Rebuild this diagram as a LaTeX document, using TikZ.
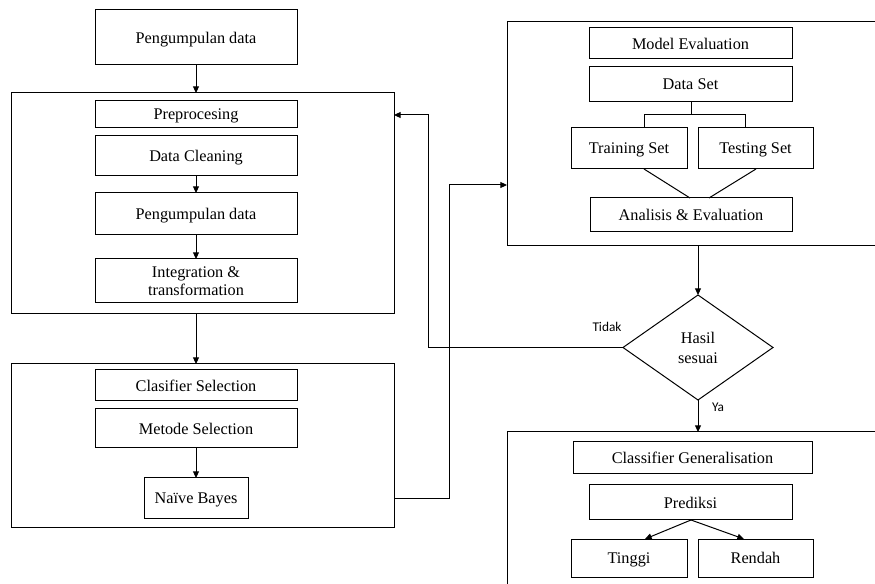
\documentclass[tikz,border=0pt]{standalone}
\usepackage{fontspec}
\setmainfont{Liberation Serif}
\newfontfamily\lblfont{Carlito}
\usetikzlibrary{arrows.meta,shapes.geometric}
\newcommand\px{0.75pt}
\begin{document}
\begin{tikzpicture}[x=0.75pt,y=-0.75pt,
  line width=0.75pt,
  box/.style={draw, inner sep=0pt, outer sep=0pt, align=center, text depth=0pt, font=\fontsize{12.2}{13.5}\selectfont},
  frame/.style={draw, inner sep=0pt, outer sep=0pt},
  arr/.style={-{Triangle[length=5pt,width=4.5pt]}},
  lbl/.style={font=\lblfont\fontsize{10}{11}\selectfont, inner sep=0pt}]
\useasboundingbox (0,0) rectangle (875,584);
\clip (0,0) rectangle (875,584);
% left column
\node[box, minimum width=202*\px, minimum height=55*\px] (top) at (196,37.5) {Pengumpulan data};
\node[frame, minimum width=383*\px, minimum height=221*\px] (big1) at (202.5,203.5) {};
\node[box, minimum width=202*\px, minimum height=27*\px] (pre) at (196,114.5) {Preprocesing};
\node[box, minimum width=202*\px, minimum height=40*\px] (dc) at (196,156) {Data Cleaning};
\node[box, minimum width=202*\px, minimum height=42*\px] (pd) at (196,214) {Pengumpulan data};
\node[box, minimum width=202*\px, minimum height=44*\px] (it) at (196,281) {Integration \&\\transformation};
\node[frame, minimum width=383*\px, minimum height=163*\px] (big2) at (202.5,445.5) {};
\node[box, minimum width=202*\px, minimum height=31*\px] (cs) at (196,385.5) {Clasifier Selection};
\node[box, minimum width=202*\px, minimum height=39*\px] (ms) at (196,428.5) {Metode Selection};
\node[box, minimum width=104*\px, minimum height=41*\px] (nb) at (196,498.5) {Naïve Bayes};
% right column
\node[frame, minimum width=400*\px, minimum height=224*\px] (rb1) at (707,134) {};
\node[box, minimum width=203*\px, minimum height=31*\px] (me) at (690.5,43.5) {Model Evaluation};
\node[box, minimum width=203*\px, minimum height=35*\px] (ds) at (690.5,84.5) {Data Set};
\node[box, minimum width=116*\px, minimum height=41*\px] (tr) at (629,148.5) {Training Set};
\node[box, minimum width=115*\px, minimum height=41*\px] (te) at (755.5,148.5) {Testing Set};
\node[box, minimum width=202*\px, minimum height=34*\px] (an) at (691,215) {Analisis \& Evaluation};
\node[draw, diamond, inner sep=0pt, outer sep=0pt, minimum width=150*\px, minimum height=105*\px, align=center, font=\fontsize{12.2}{15}\selectfont] (dia) at (698,347.5) {Hasil\\sesuai};
\node[frame, minimum width=400*\px, minimum height=180*\px] (rb2) at (707,522) {};
\node[box, minimum width=239*\px, minimum height=32*\px] (cg) at (692.5,458) {Classifier Generalisation};
\node[box, minimum width=203*\px, minimum height=35*\px] (pr) at (690.5,502.5) {Prediksi};
\node[box, minimum width=116*\px, minimum height=38*\px] (ti) at (629,558) {Tinggi};
\node[box, minimum width=115*\px, minimum height=38*\px] (re) at (755.5,558) {Rendah};
\node[lbl] (tidak) at (607,327) {Tidak};
\node[lbl] (ya) at (718,407) {Ya};
% helper coordinates
\coordinate (j1) at (449,185);
\coordinate (j2) at (428,115);
\coordinate (tj) at (691,115);
\coordinate (tl) at (644,115);
\coordinate (tr2) at (745.5,115);
\coordinate (trb) at (644,169);
\coordinate (teb) at (756,169);
\coordinate (anl) at (690,198);
\coordinate (anr) at (709,198);
\coordinate (prb) at (691,520);
\coordinate (tit) at (645,539);
\coordinate (ret) at (744,539);
% connectors
\draw[arr] (top.south) -- (top.south |- big1.north);
\draw[arr] (dc.south) -- (pd.north);
\draw[arr] (pd.south) -- (it.north);
\draw[arr] (it.south |- big1.south) -- (it.south |- big2.north);
\draw[arr] (ms.south) -- (nb.north);
\draw[arr] (big2.east |- nb) -| (j1) -- (j1 -| rb1.west);
\draw (ds.south -| tj) -- (tj);
\draw (tl |- tr.north) -- (tl) -- (tr2) -- (tr2 |- te.north);
\draw (trb) -- (anl);
\draw (teb) -- (anr);
\draw[arr] (dia.north |- rb1.south) -- (dia.north);
\draw[arr] (dia.west) -| (j2) -- (j2 -| big1.east);
\draw[arr] (dia.south) -- (dia.south |- rb2.north);
\draw[arr] (prb) -- (tit);
\draw[arr] (prb) -- (ret);
\end{tikzpicture}
\end{document}
